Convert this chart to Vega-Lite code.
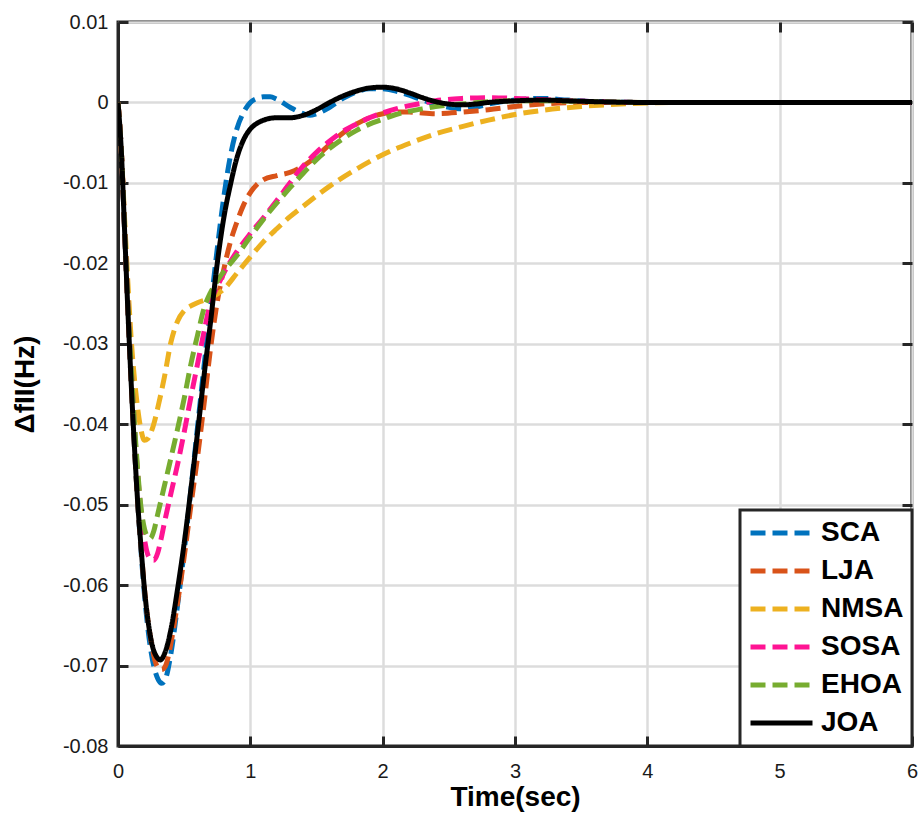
{
  "$schema": "https://vega.github.io/schema/vega-lite/v6.json",
  "width": 794,
  "height": 724,
  "autosize": "none",
  "padding": {"left": 118, "top": 22, "right": 12, "bottom": 73},
  "datasets": {
    "curves": [
      {"series":"SCA","t":0,"v":0},{"series":"SCA","t":0.025,"v":-0.006},{"series":"SCA","t":0.05,"v":-0.016},{"series":"SCA","t":0.075,"v":-0.026},{"series":"SCA","t":0.1,"v":-0.035},{"series":"SCA","t":0.125,"v":-0.043},{"series":"SCA","t":0.15,"v":-0.05},{"series":"SCA","t":0.175,"v":-0.056},{"series":"SCA","t":0.2,"v":-0.0612},{"series":"SCA","t":0.25,"v":-0.0683},{"series":"SCA","t":0.3,"v":-0.0716},{"series":"SCA","t":0.33,"v":-0.0722},{"series":"SCA","t":0.36,"v":-0.0716},{"series":"SCA","t":0.4,"v":-0.0685},{"series":"SCA","t":0.45,"v":-0.0625},{"series":"SCA","t":0.5,"v":-0.0558},{"series":"SCA","t":0.55,"v":-0.0483},{"series":"SCA","t":0.6,"v":-0.0405},{"series":"SCA","t":0.65,"v":-0.0328},{"series":"SCA","t":0.7,"v":-0.0254},{"series":"SCA","t":0.75,"v":-0.0182},{"series":"SCA","t":0.8,"v":-0.0117},{"series":"SCA","t":0.85,"v":-0.0066},{"series":"SCA","t":0.9,"v":-0.0032},{"series":"SCA","t":0.95,"v":-0.0012},{"series":"SCA","t":1.0,"v":0.0},{"series":"SCA","t":1.05,"v":0.0005},{"series":"SCA","t":1.1,"v":0.0007},{"series":"SCA","t":1.15,"v":0.0007},{"series":"SCA","t":1.2,"v":0.0004},{"series":"SCA","t":1.3,"v":-0.0006},{"series":"SCA","t":1.4,"v":-0.0014},{"series":"SCA","t":1.45,"v":-0.0016},{"series":"SCA","t":1.5,"v":-0.0014},{"series":"SCA","t":1.6,"v":-0.0006},{"series":"SCA","t":1.7,"v":0.0005},{"series":"SCA","t":1.8,"v":0.0013},{"series":"SCA","t":1.9,"v":0.0017},{"series":"SCA","t":2.0,"v":0.0017},{"series":"SCA","t":2.1,"v":0.0014},{"series":"SCA","t":2.2,"v":0.0009},{"series":"SCA","t":2.3,"v":0.0003},{"series":"SCA","t":2.4,"v":-0.0002},{"series":"SCA","t":2.5,"v":-0.0006},{"series":"SCA","t":2.6,"v":-0.0008},{"series":"SCA","t":2.7,"v":-0.0006},{"series":"SCA","t":2.8,"v":-0.0002},{"series":"SCA","t":3.0,"v":0.0003},{"series":"SCA","t":3.2,"v":0.0005},{"series":"SCA","t":3.4,"v":0.0003},{"series":"SCA","t":3.6,"v":0.0001},{"series":"SCA","t":4.0,"v":0},{"series":"SCA","t":5.0,"v":0},{"series":"SCA","t":6.0,"v":0},

      {"series":"LJA","t":0,"v":0},{"series":"LJA","t":0.025,"v":-0.006},{"series":"LJA","t":0.05,"v":-0.016},{"series":"LJA","t":0.075,"v":-0.026},{"series":"LJA","t":0.1,"v":-0.035},{"series":"LJA","t":0.125,"v":-0.043},{"series":"LJA","t":0.15,"v":-0.05},{"series":"LJA","t":0.175,"v":-0.0555},{"series":"LJA","t":0.2,"v":-0.0605},{"series":"LJA","t":0.25,"v":-0.067},{"series":"LJA","t":0.3,"v":-0.0702},{"series":"LJA","t":0.33,"v":-0.0705},{"series":"LJA","t":0.36,"v":-0.07},{"series":"LJA","t":0.4,"v":-0.0672},{"series":"LJA","t":0.45,"v":-0.0622},{"series":"LJA","t":0.5,"v":-0.0565},{"series":"LJA","t":0.55,"v":-0.0502},{"series":"LJA","t":0.6,"v":-0.0442},{"series":"LJA","t":0.65,"v":-0.0375},{"series":"LJA","t":0.7,"v":-0.0305},{"series":"LJA","t":0.75,"v":-0.0248},{"series":"LJA","t":0.8,"v":-0.0207},{"series":"LJA","t":0.85,"v":-0.0173},{"series":"LJA","t":0.9,"v":-0.0148},{"series":"LJA","t":0.95,"v":-0.0127},{"series":"LJA","t":1.0,"v":-0.0112},{"series":"LJA","t":1.05,"v":-0.0102},{"series":"LJA","t":1.1,"v":-0.0096},{"series":"LJA","t":1.2,"v":-0.0091},{"series":"LJA","t":1.3,"v":-0.0087},{"series":"LJA","t":1.4,"v":-0.0079},{"series":"LJA","t":1.5,"v":-0.0067},{"series":"LJA","t":1.6,"v":-0.0052},{"series":"LJA","t":1.7,"v":-0.0038},{"series":"LJA","t":1.8,"v":-0.0027},{"series":"LJA","t":1.9,"v":-0.0019},{"series":"LJA","t":2.0,"v":-0.0014},{"series":"LJA","t":2.1,"v":-0.0012},{"series":"LJA","t":2.2,"v":-0.0012},{"series":"LJA","t":2.4,"v":-0.0014},{"series":"LJA","t":2.6,"v":-0.0012},{"series":"LJA","t":2.8,"v":-0.0009},{"series":"LJA","t":3.0,"v":-0.0005},{"series":"LJA","t":3.2,"v":-0.0002},{"series":"LJA","t":3.5,"v":0},{"series":"LJA","t":4.0,"v":0},{"series":"LJA","t":5.0,"v":0},{"series":"LJA","t":6.0,"v":0},

      {"series":"NMSA","t":0,"v":0},{"series":"NMSA","t":0.025,"v":-0.006},{"series":"NMSA","t":0.05,"v":-0.0145},{"series":"NMSA","t":0.075,"v":-0.0225},{"series":"NMSA","t":0.1,"v":-0.0295},{"series":"NMSA","t":0.125,"v":-0.0345},{"series":"NMSA","t":0.15,"v":-0.0382},{"series":"NMSA","t":0.175,"v":-0.0408},{"series":"NMSA","t":0.2,"v":-0.042},{"series":"NMSA","t":0.225,"v":-0.0418},{"series":"NMSA","t":0.25,"v":-0.041},{"series":"NMSA","t":0.275,"v":-0.0397},{"series":"NMSA","t":0.3,"v":-0.038},{"series":"NMSA","t":0.35,"v":-0.0342},{"series":"NMSA","t":0.4,"v":-0.0298},{"series":"NMSA","t":0.45,"v":-0.0272},{"series":"NMSA","t":0.5,"v":-0.0259},{"series":"NMSA","t":0.55,"v":-0.0253},{"series":"NMSA","t":0.6,"v":-0.0249},{"series":"NMSA","t":0.7,"v":-0.0243},{"series":"NMSA","t":0.8,"v":-0.0232},{"series":"NMSA","t":0.9,"v":-0.0212},{"series":"NMSA","t":1.0,"v":-0.0192},{"series":"NMSA","t":1.1,"v":-0.0173},{"series":"NMSA","t":1.2,"v":-0.0157},{"series":"NMSA","t":1.3,"v":-0.0142},{"series":"NMSA","t":1.4,"v":-0.0129},{"series":"NMSA","t":1.5,"v":-0.0116},{"series":"NMSA","t":1.6,"v":-0.0104},{"series":"NMSA","t":1.8,"v":-0.0083},{"series":"NMSA","t":2.0,"v":-0.0065},{"series":"NMSA","t":2.2,"v":-0.0051},{"series":"NMSA","t":2.4,"v":-0.0039},{"series":"NMSA","t":2.6,"v":-0.003},{"series":"NMSA","t":2.8,"v":-0.0022},{"series":"NMSA","t":3.0,"v":-0.0015},{"series":"NMSA","t":3.2,"v":-0.001},{"series":"NMSA","t":3.5,"v":-0.0005},{"series":"NMSA","t":3.8,"v":-0.0002},{"series":"NMSA","t":4.2,"v":0},{"series":"NMSA","t":5.0,"v":0},{"series":"NMSA","t":6.0,"v":0},

      {"series":"SOSA","t":0,"v":0},{"series":"SOSA","t":0.025,"v":-0.006},{"series":"SOSA","t":0.05,"v":-0.0155},{"series":"SOSA","t":0.075,"v":-0.025},{"series":"SOSA","t":0.1,"v":-0.033},{"series":"SOSA","t":0.125,"v":-0.0405},{"series":"SOSA","t":0.15,"v":-0.0465},{"series":"SOSA","t":0.175,"v":-0.051},{"series":"SOSA","t":0.2,"v":-0.0543},{"series":"SOSA","t":0.225,"v":-0.0562},{"series":"SOSA","t":0.25,"v":-0.0568},{"series":"SOSA","t":0.27,"v":-0.0569},{"series":"SOSA","t":0.3,"v":-0.056},{"series":"SOSA","t":0.325,"v":-0.0543},{"series":"SOSA","t":0.35,"v":-0.0523},{"series":"SOSA","t":0.4,"v":-0.0486},{"series":"SOSA","t":0.45,"v":-0.045},{"series":"SOSA","t":0.5,"v":-0.041},{"series":"SOSA","t":0.55,"v":-0.0367},{"series":"SOSA","t":0.6,"v":-0.0326},{"series":"SOSA","t":0.65,"v":-0.0285},{"series":"SOSA","t":0.7,"v":-0.0248},{"series":"SOSA","t":0.75,"v":-0.0229},{"series":"SOSA","t":0.8,"v":-0.0212},{"series":"SOSA","t":0.9,"v":-0.0185},{"series":"SOSA","t":1.0,"v":-0.0163},{"series":"SOSA","t":1.1,"v":-0.0143},{"series":"SOSA","t":1.2,"v":-0.0122},{"series":"SOSA","t":1.3,"v":-0.01},{"series":"SOSA","t":1.4,"v":-0.0079},{"series":"SOSA","t":1.5,"v":-0.0062},{"series":"SOSA","t":1.6,"v":-0.0048},{"series":"SOSA","t":1.7,"v":-0.0036},{"series":"SOSA","t":1.8,"v":-0.0027},{"series":"SOSA","t":1.9,"v":-0.0019},{"series":"SOSA","t":2.0,"v":-0.0013},{"series":"SOSA","t":2.1,"v":-0.0008},{"series":"SOSA","t":2.2,"v":-0.0004},{"series":"SOSA","t":2.3,"v":-0.0001},{"series":"SOSA","t":2.4,"v":0.0002},{"series":"SOSA","t":2.6,"v":0.0005},{"series":"SOSA","t":2.8,"v":0.0006},{"series":"SOSA","t":3.0,"v":0.0005},{"series":"SOSA","t":3.3,"v":0.0003},{"series":"SOSA","t":3.6,"v":0.0001},{"series":"SOSA","t":4.0,"v":0},{"series":"SOSA","t":5.0,"v":0},{"series":"SOSA","t":6.0,"v":0},

      {"series":"EHOA","t":0,"v":0},{"series":"EHOA","t":0.025,"v":-0.006},{"series":"EHOA","t":0.05,"v":-0.0155},{"series":"EHOA","t":0.075,"v":-0.025},{"series":"EHOA","t":0.1,"v":-0.033},{"series":"EHOA","t":0.125,"v":-0.04},{"series":"EHOA","t":0.15,"v":-0.046},{"series":"EHOA","t":0.175,"v":-0.0505},{"series":"EHOA","t":0.2,"v":-0.053},{"series":"EHOA","t":0.225,"v":-0.054},{"series":"EHOA","t":0.245,"v":-0.0542},{"series":"EHOA","t":0.27,"v":-0.0533},{"series":"EHOA","t":0.3,"v":-0.0512},{"series":"EHOA","t":0.35,"v":-0.0477},{"series":"EHOA","t":0.4,"v":-0.0442},{"series":"EHOA","t":0.45,"v":-0.0406},{"series":"EHOA","t":0.5,"v":-0.0368},{"series":"EHOA","t":0.55,"v":-0.0326},{"series":"EHOA","t":0.6,"v":-0.029},{"series":"EHOA","t":0.65,"v":-0.0256},{"series":"EHOA","t":0.7,"v":-0.0236},{"series":"EHOA","t":0.75,"v":-0.0222},{"series":"EHOA","t":0.8,"v":-0.021},{"series":"EHOA","t":0.9,"v":-0.019},{"series":"EHOA","t":1.0,"v":-0.0167},{"series":"EHOA","t":1.1,"v":-0.0145},{"series":"EHOA","t":1.2,"v":-0.0125},{"series":"EHOA","t":1.3,"v":-0.0106},{"series":"EHOA","t":1.4,"v":-0.0088},{"series":"EHOA","t":1.5,"v":-0.0071},{"series":"EHOA","t":1.6,"v":-0.0057},{"series":"EHOA","t":1.7,"v":-0.0045},{"series":"EHOA","t":1.8,"v":-0.0035},{"series":"EHOA","t":1.9,"v":-0.0027},{"series":"EHOA","t":2.0,"v":-0.0021},{"series":"EHOA","t":2.1,"v":-0.0015},{"series":"EHOA","t":2.2,"v":-0.0011},{"series":"EHOA","t":2.3,"v":-0.0008},{"series":"EHOA","t":2.4,"v":-0.0005},{"series":"EHOA","t":2.6,"v":-0.0002},{"series":"EHOA","t":2.8,"v":0.0001},{"series":"EHOA","t":3.0,"v":0.0002},{"series":"EHOA","t":3.3,"v":0.0002},{"series":"EHOA","t":3.6,"v":0.0001},{"series":"EHOA","t":4.0,"v":0},{"series":"EHOA","t":5.0,"v":0},{"series":"EHOA","t":6.0,"v":0},

      {"series":"JOA","t":0,"v":0},{"series":"JOA","t":0.025,"v":-0.006},{"series":"JOA","t":0.05,"v":-0.016},{"series":"JOA","t":0.075,"v":-0.026},{"series":"JOA","t":0.1,"v":-0.035},{"series":"JOA","t":0.125,"v":-0.043},{"series":"JOA","t":0.15,"v":-0.05},{"series":"JOA","t":0.175,"v":-0.0555},{"series":"JOA","t":0.2,"v":-0.0605},{"series":"JOA","t":0.25,"v":-0.0668},{"series":"JOA","t":0.3,"v":-0.0691},{"series":"JOA","t":0.32,"v":-0.0693},{"series":"JOA","t":0.35,"v":-0.0686},{"series":"JOA","t":0.4,"v":-0.0655},{"series":"JOA","t":0.45,"v":-0.0605},{"series":"JOA","t":0.5,"v":-0.0548},{"series":"JOA","t":0.55,"v":-0.0482},{"series":"JOA","t":0.6,"v":-0.0412},{"series":"JOA","t":0.65,"v":-0.034},{"series":"JOA","t":0.7,"v":-0.0272},{"series":"JOA","t":0.75,"v":-0.02},{"series":"JOA","t":0.8,"v":-0.0143},{"series":"JOA","t":0.85,"v":-0.0102},{"series":"JOA","t":0.9,"v":-0.0068},{"series":"JOA","t":0.95,"v":-0.0046},{"series":"JOA","t":1.0,"v":-0.0033},{"series":"JOA","t":1.05,"v":-0.0026},{"series":"JOA","t":1.1,"v":-0.0022},{"series":"JOA","t":1.2,"v":-0.0019},{"series":"JOA","t":1.3,"v":-0.0019},{"series":"JOA","t":1.4,"v":-0.0016},{"series":"JOA","t":1.5,"v":-0.0009},{"series":"JOA","t":1.6,"v":0.0},{"series":"JOA","t":1.7,"v":0.0008},{"series":"JOA","t":1.8,"v":0.0014},{"series":"JOA","t":1.9,"v":0.0018},{"series":"JOA","t":2.0,"v":0.0019},{"series":"JOA","t":2.1,"v":0.0017},{"series":"JOA","t":2.2,"v":0.0012},{"series":"JOA","t":2.3,"v":0.0006},{"series":"JOA","t":2.4,"v":0.0001},{"series":"JOA","t":2.5,"v":-0.0002},{"series":"JOA","t":2.6,"v":-0.0003},{"series":"JOA","t":2.7,"v":-0.0002},{"series":"JOA","t":2.8,"v":0.0},{"series":"JOA","t":3.0,"v":0.0002},{"series":"JOA","t":3.2,"v":0.0003},{"series":"JOA","t":3.4,"v":0.0002},{"series":"JOA","t":3.6,"v":0.0001},{"series":"JOA","t":4.0,"v":0},{"series":"JOA","t":5.0,"v":0},{"series":"JOA","t":6.0,"v":0}
    ]
  },
  "data": {"name": "curves"},
  "layer": [
    {
      "mark": {"type": "line", "strokeWidth": 5, "interpolate": "monotone", "clip": true},
      "encoding": {
        "x": {
          "field": "t", "type": "quantitative",
          "scale": {"domain": [0, 6], "nice": false, "zero": false},
          "axis": {
            "orient": "bottom", "values": [0, 1, 2, 3, 4, 5, 6], "format": "d",
            "grid": true, "tickSize": -10, "labelPadding": 25,
            "title": "Time(sec)", "titleX": 397, "titleY": 59, "titleAlign": "center", "titleBaseline": "alphabetic"
          }
        },
        "y": {
          "field": "v", "type": "quantitative",
          "scale": {"domain": [-0.08, 0.01], "nice": false, "zero": false},
          "axis": {
            "orient": "left",
            "values": [-0.08, -0.07, -0.06, -0.05, -0.04, -0.03, -0.02, -0.01, 0, 0.01],
            "labelExpr": "datum.value == 0 ? '0' : (datum.value < 0 ? '-' : '') + format(abs(datum.value), '.2f')",
            "grid": true, "tickSize": -10, "labelPadding": 20,
            "title": "ΔfII(Hz)", "titleAngle": -90, "titleX": -85, "titleY": 362, "titleAlign": "center", "titleBaseline": "alphabetic"
          }
        },
        "color": {
          "field": "series", "type": "nominal",
          "scale": {"domain": ["SCA", "LJA", "NMSA", "SOSA", "EHOA", "JOA"], "range": ["#0072BD", "#D95319", "#EDB120", "#FF1493", "#77AC30", "#000000"]},
          "legend": {"title": null}
        },
        "strokeDash": {
          "field": "series", "type": "nominal",
          "scale": {"domain": ["SCA", "LJA", "NMSA", "SOSA", "EHOA", "JOA"], "range": [[15, 7], [15, 7], [15, 7], [15, 7], [15, 7], [1, 0]]},
          "legend": {"title": null}
        },
        "order": {"field": "t", "type": "quantitative"}
      }
    },
    {
      "mark": {"type": "point", "opacity": 0},
      "encoding": {
        "x": {
          "field": "t", "type": "quantitative",
          "axis": {"orient": "top", "values": [0, 1, 2, 3, 4, 5, 6], "labels": false, "grid": false, "domain": false, "tickSize": -10, "title": null}
        },
        "y": {
          "field": "v", "type": "quantitative",
          "axis": {"orient": "right", "values": [-0.08, -0.07, -0.06, -0.05, -0.04, -0.03, -0.02, -0.01, 0, 0.01], "labels": false, "grid": false, "domain": false, "tickSize": -10, "title": null}
        }
      }
    }
  ],
  "resolve": {"axis": {"x": "independent", "y": "independent"}},
  "config": {
    "font": "Liberation Sans",
    "view": {"stroke": "#262626", "strokeWidth": 3},
    "axis": {
      "domainColor": "#262626", "domainWidth": 3,
      "tickColor": "#262626", "tickWidth": 3,
      "gridColor": "#dcdcdc", "gridWidth": 2.5, "gridOpacity": 1,
      "labelFont": "Liberation Sans", "labelFontSize": 20, "labelColor": "#1a1a1a", "labelFontWeight": "normal",
      "titleFont": "Liberation Sans", "titleFontSize": 28, "titleFontWeight": "bold", "titleColor": "#000000",
      "labelFlush": false, "labelOverlap": false
    },
    "legend": {
      "orient": "bottom-right", "offset": 0, "padding": 8, "rowPadding": 8, "clipHeight": 30,
      "strokeColor": "#262626", "strokeWidth": 3, "fillColor": "#ffffff",
      "labelFont": "Liberation Sans", "labelFontSize": 28, "labelFontWeight": "bold", "labelColor": "#000000",
      "labelOffset": 6, "labelLimit": 0,
      "symbolType": "stroke", "symbolSize": 3844, "symbolStrokeWidth": 5
    }
  }
}
